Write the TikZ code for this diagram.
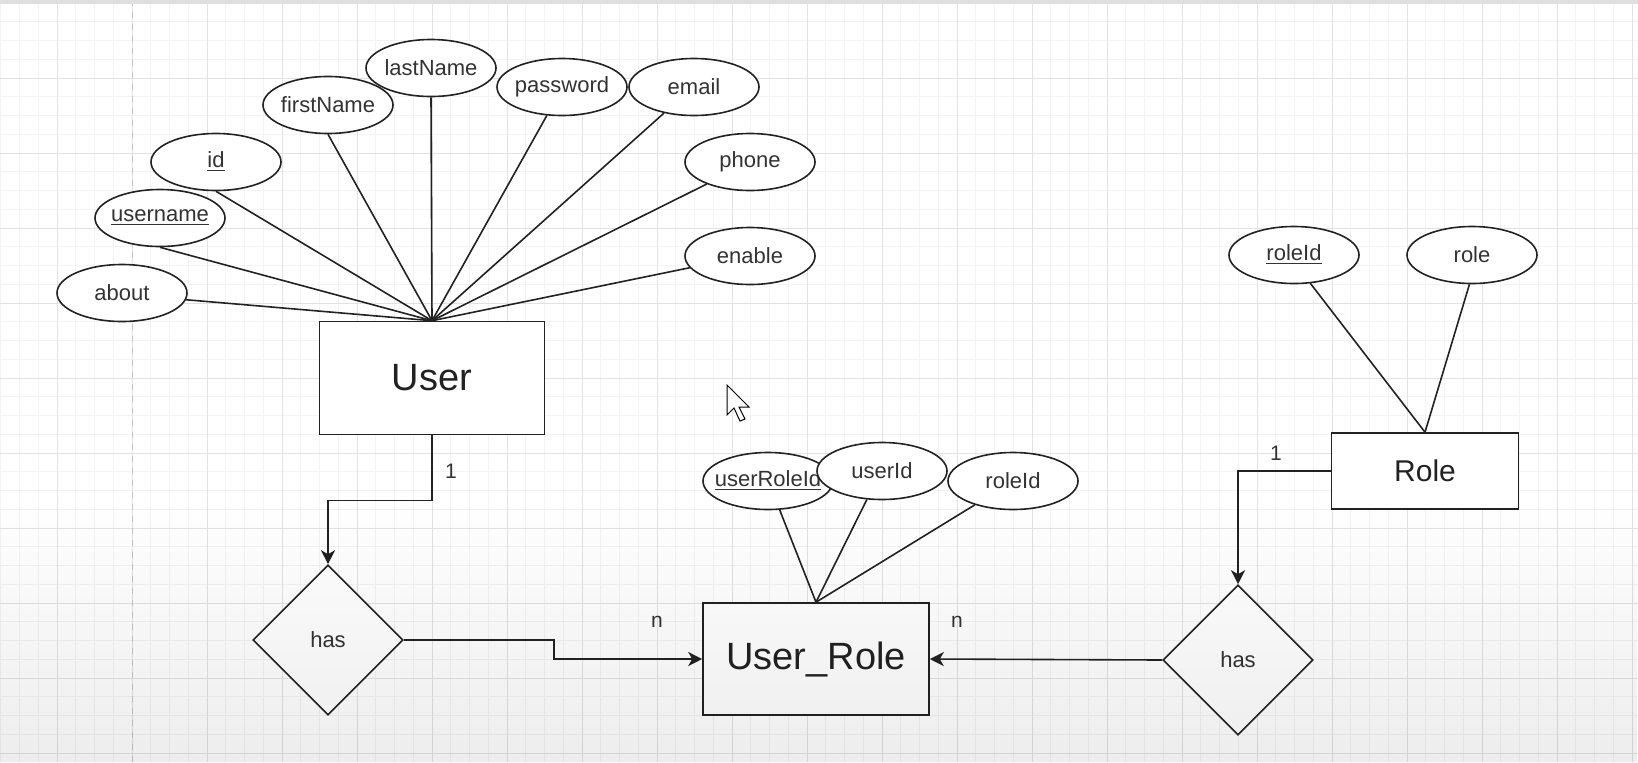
\documentclass[tikz,border=0pt]{standalone}
\usepackage{fontspec}
\setmainfont{Liberation Sans}
\usepackage{xcolor}
\usetikzlibrary{arrows.meta,positioning,shapes,fadings}

\definecolor{ink}{HTML}{222222}
\definecolor{txtgray}{HTML}{333333}
\definecolor{gridminor}{HTML}{F3F3F3}
\definecolor{gridmajor}{HTML}{E2E2E2}
\definecolor{pageline}{HTML}{C4C4C4}

\begin{document}
\begin{tikzpicture}[x=0.5pt, y=-0.5pt, line width=0.8pt]
	\tikzstyle{attr}
	  =[draw=ink, fill=white, ellipse, minimum width=65pt,
	  minimum height=28.5pt, inner xsep=-6pt, inner ysep=0pt,
	  text=txtgray, font=\fontsize{11}{13}\selectfont]
	\tikzstyle{entity}
	  =[draw=ink, fill=white, rectangle, inner sep=0pt,
	  text=ink, font=\fontsize{19}{23}\selectfont]
	\tikzstyle{rel}
	  =[draw=ink, fill=white, diamond, minimum width=75pt,
	  minimum height=75pt, inner sep=0pt, text=txtgray,
	  font=\fontsize{11}{13}\selectfont]
	\tikzstyle{card}=[text=txtgray, font=\fontsize{10.5}{12}\selectfont]
	\tikzstyle{link}=[draw=ink]
	\tikzstyle{flow}=[draw=ink, -{Stealth[length=7pt,width=7pt,inset=2pt]}]

	% canvas and grid
	\useasboundingbox (0,0) rectangle (1638,762);
	\fill[white] (0,0) rectangle (1638,762);
	\foreach \i in {0,...,88}
	  \draw[gridminor, line width=0.4pt] ({-18+18.75*\i},0) -- ({-18+18.75*\i},762);
	\foreach \i in {0,...,40}
	  \draw[gridminor, line width=0.4pt] (0,{3+18.75*\i}) -- (1638,{3+18.75*\i});
	\foreach \i in {0,...,21}
	  \draw[gridmajor, line width=0.5pt] ({57+75*\i},0) -- ({57+75*\i},762);
	\foreach \i in {0,...,10}
	  \draw[gridmajor, line width=0.5pt] (0,{3+75*\i}) -- (1638,{3+75*\i});
	\draw[pageline, dashed, line width=0.5pt] (132,0) -- (132,762);
	\fill[gray!25] (0,0) rectangle (1638,4);

	% User
	\node[entity, minimum width=112.5pt, minimum height=56.5pt] (User)
	  at (432,378) {User};
	\node[attr] (about)
	  at (122,293) {about};
	\node[attr] (username)
	  at (160,218) {\underline{username}};
	\node[attr] (id)
	  at (216,162) {\underline{id}};
	\node[attr] (firstName)
	  at (328,105) {firstName};
	\node[attr] (lastName)
	  at (431,68) {lastName};
	\node[attr] (password)
	  at (562,87) {password};
	\node[attr] (email)
	  at (694,87) {email};
	\node[attr] (phone)
	  at (750,162) {phone};
	\node[attr] (enable)
	  at (750,256) {enable};

	\draw[link] (about.354) -- (User.north);
	\draw[link] (username.south) -- (User.north);
	\draw[link] (id.south) -- (User.north);
	\draw[link] (firstName.south) -- (User.north);
	\draw[link] (lastName.south) -- (User.north);
	\draw[link] (password.242) -- (User.north);
	\draw[link] (email.221) -- (User.north);
	\draw[link] (phone.207) -- (User.north);
	\draw[link] (enable.191) -- (User.north);

	% User_Role
	\node[entity, minimum width=113pt, minimum height=56pt] (UserRole)
	  at (816,659) {User\_Role};
	\node[attr] (userRoleId)
	  at (768,481) {\underline{userRoleId}};
	\node[attr] (userId)
	  at (882,471) {userId};
	\node[attr] (roleIdRef)
	  at (1013,481) {roleId};

	\draw[link] (userRoleId.292) -- (UserRole.north);
	\draw[link] (userId.242) -- (UserRole.north);
	\draw[link] (roleIdRef.212) -- (UserRole.north);

	% Role
	\node[entity, minimum width=93.5pt, minimum height=38pt,
	  font=\fontsize{15}{18}\selectfont] (Role)
	  at (1425,471) {Role};
	\node[attr] (roleId)
	  at (1294,255) {\underline{roleId}};
	\node[attr] (role)
	  at (1472,255) {role};

	\draw[link] (roleId.300) -- (Role.north);
	\draw[link] (role.265) -- (Role.north);

	% relationships
	\node[rel] (HasUser)
	  at (328,640) {has};
	\node[rel] (HasRole)
	  at (1238,660) {has};

	\draw[flow] (User.south) -- ++(0,65) -| (HasUser.north);
	\draw[flow] (HasUser.east) -- ++(150,0) |- (UserRole.west);
	\draw[flow] (Role.west) -| (HasRole.north);
	\draw[flow] (HasRole.west) -- (UserRole.east);

	\node[card] (oneUser) at (451,471) {1};
	\node[card] (oneRole) at (1276,453) {1};
	\node[card] (nLeft) at (657,622) {n};
	\node[card] (nRight) at (957,622) {n};

	% pointer
	\draw[black, fill=white, line width=0.5pt] (727,385) -- ++(0,30) -- ++(7,-7)
	  -- ++(6,13) -- ++(5,-2) -- ++(-6,-12) -- ++(10,0) -- cycle;

	% shade at the bottom
	\fill[black, opacity=0.07, path fading=north] (0,500) rectangle (1638,762);
\end{tikzpicture}
\end{document}
